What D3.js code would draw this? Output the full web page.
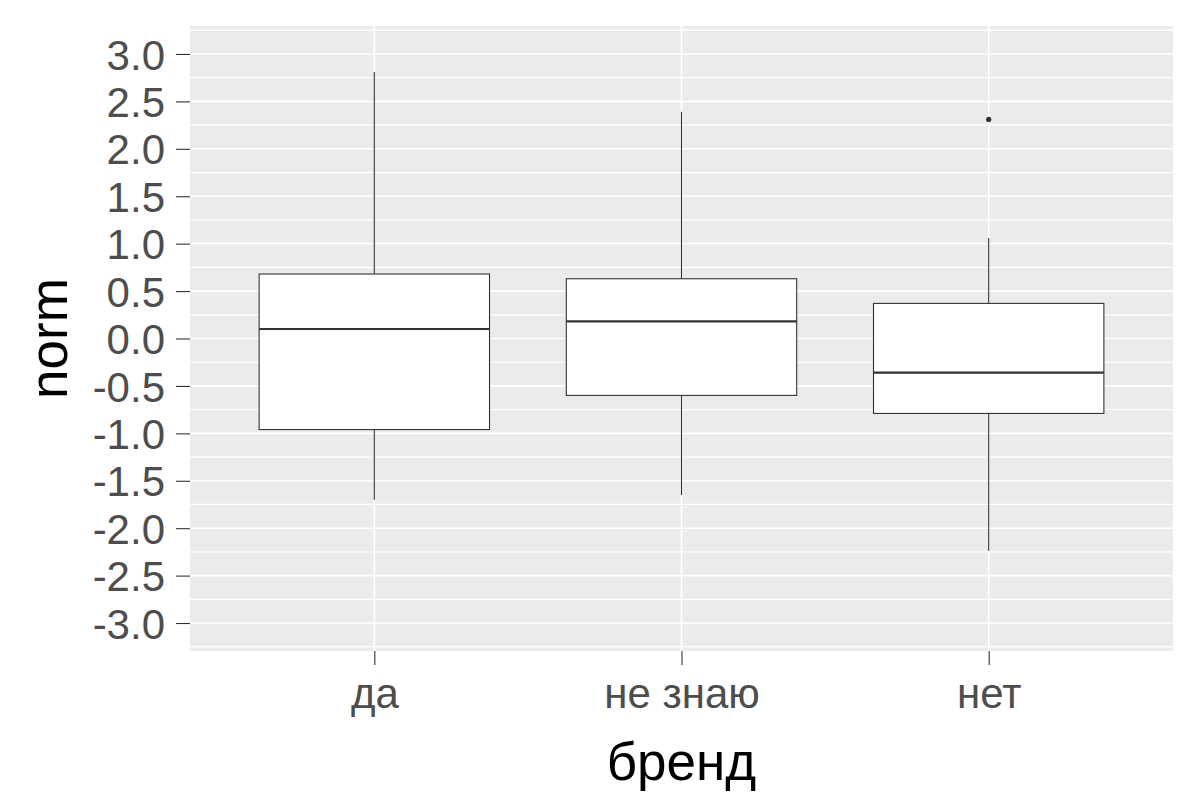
<!DOCTYPE html>
<html>
<head>
<meta charset="utf-8">
<script src="https://cdn.jsdelivr.net/npm/d3@7"></script>
<style>
  body { margin: 0; background: #fff; }
  svg { display: block; font-family: "Liberation Sans", Arial, sans-serif; }
</style>
</head>
<body>
<svg></svg>
<script>
const width = 1200;
const height = 800;

// данные (оценки по картинке)
const categories = ["да", "не знаю", "нет"];
const whiskerLow = [-1.70, -1.65, -2.24];
const q1 = [-0.96, -0.60, -0.79];
const median = [0.10, 0.18, -0.36];
const q3 = [0.68, 0.63, 0.37];
const whiskerHigh = [2.81, 2.39, 1.06];
const outliers = [[], [], [2.31]];

const yTicks = [3, 2.5, 2, 1.5, 1, 0.5, 0, -0.5, -1, -1.5, -2, -2.5, -3];
const yTickLabels = ["3.0", "2.5", "2.0", "1.5", "1.0", "0.5", "0.0", "-0.5", "-1.0", "-1.5", "-2.0", "-2.5", "-3.0"];
const yMinor = [3.25, 2.75, 2.25, 1.75, 1.25, 0.75, 0.25, -0.25, -0.75, -1.25, -1.75, -2.25, -2.75, -3.25];

const panel = { left: 190, right: 1173, top: 26, bottom: 651 };

let svg = d3.select("svg").attr("width", width).attr("height", height);

let x = d3.scalePoint()
    .domain(categories)
    .range([panel.left, panel.right])
    .padding(0.6);

let y = d3.scaleLinear()
    .domain([-3.295, 3.295])
    .range([panel.bottom, panel.top]);

const boxWidth = x.step() * 0.75;

// фон панели
svg.append("rect")
    .attr("x", panel.left)
    .attr("y", panel.top)
    .attr("width", panel.right - panel.left)
    .attr("height", panel.bottom - panel.top)
    .attr("fill", "#EBEBEB");

// сетка
let grid = svg.append("g").attr("stroke", "#fff");
grid.selectAll(".minor")
    .data(yMinor)
    .join("line")
    .attr("x1", panel.left).attr("x2", panel.right)
    .attr("y1", d => y(d)).attr("y2", d => y(d))
    .attr("stroke-width", 1.3);
grid.selectAll(".major")
    .data(yTicks)
    .join("line")
    .attr("x1", panel.left).attr("x2", panel.right)
    .attr("y1", d => y(d)).attr("y2", d => y(d))
    .attr("stroke-width", 1.6);
grid.selectAll(".vert")
    .data(categories)
    .join("line")
    .attr("x1", d => x(d)).attr("x2", d => x(d))
    .attr("y1", panel.top).attr("y2", panel.bottom)
    .attr("stroke-width", 1.6);

// ящики
let boxes = svg.append("g")
    .selectAll("g")
    .data(categories)
    .join("g");

boxes.append("line")
    .attr("x1", d => x(d)).attr("x2", d => x(d))
    .attr("y1", (d, i) => y(whiskerHigh[i]))
    .attr("y2", (d, i) => y(q3[i]))
    .attr("stroke", "#333").attr("stroke-width", 1.1);
boxes.append("line")
    .attr("x1", d => x(d)).attr("x2", d => x(d))
    .attr("y1", (d, i) => y(q1[i]))
    .attr("y2", (d, i) => y(whiskerLow[i]))
    .attr("stroke", "#333").attr("stroke-width", 1.1);
boxes.append("rect")
    .attr("x", d => x(d) - boxWidth / 2)
    .attr("width", boxWidth)
    .attr("y", (d, i) => y(q3[i]))
    .attr("height", (d, i) => y(q1[i]) - y(q3[i]))
    .attr("fill", "#fff")
    .attr("stroke", "#333")
    .attr("stroke-width", 1.1);
boxes.append("line")
    .attr("x1", d => x(d) - boxWidth / 2)
    .attr("x2", d => x(d) + boxWidth / 2)
    .attr("y1", (d, i) => y(median[i]))
    .attr("y2", (d, i) => y(median[i]))
    .attr("stroke", "#333").attr("stroke-width", 2.2);
boxes.each(function (d, i) {
    d3.select(this).selectAll("circle")
        .data(outliers[i])
        .join("circle")
        .attr("cx", x(d))
        .attr("cy", v => y(v))
        .attr("r", 2.6)
        .attr("fill", "#333");
});

// оси
let yAxis = svg.append("g")
    .attr("transform", `translate(${panel.left},0)`)
    .call(d3.axisLeft(y)
        .tickValues(yTicks)
        .tickFormat((d, i) => yTickLabels[i])
        .tickSize(14)
        .tickPadding(11));
yAxis.select(".domain").remove();
yAxis.selectAll(".tick line").attr("stroke", "#333").attr("stroke-width", 1.1);
yAxis.selectAll(".tick text")
    .attr("fill", "#4D4D4D")
    .attr("font-size", 42)
    .attr("font-family", "Liberation Sans, Arial, sans-serif")
    .attr("dy", "0.36em");

let xAxis = svg.append("g")
    .attr("transform", `translate(0,${panel.bottom})`)
    .call(d3.axisBottom(x).tickSize(14).tickPadding(13));
xAxis.select(".domain").remove();
xAxis.selectAll(".tick line").attr("stroke", "#333").attr("stroke-width", 1.1);
xAxis.selectAll(".tick text")
    .attr("fill", "#4D4D4D")
    .attr("font-size", 42)
    .attr("font-family", "Liberation Sans, Arial, sans-serif");

// подписи осей
svg.append("text")
    .attr("x", (panel.left + panel.right) / 2)
    .attr("y", 780)
    .attr("text-anchor", "middle")
    .attr("font-size", 53)
    .attr("fill", "#000")
    .text("бренд");

svg.append("text")
    .attr("transform", `translate(67,${(panel.top + panel.bottom) / 2}) rotate(-90)`)
    .attr("text-anchor", "middle")
    .attr("font-size", 53)
    .attr("fill", "#000")
    .text("norm");
</script>
</body>
</html>
